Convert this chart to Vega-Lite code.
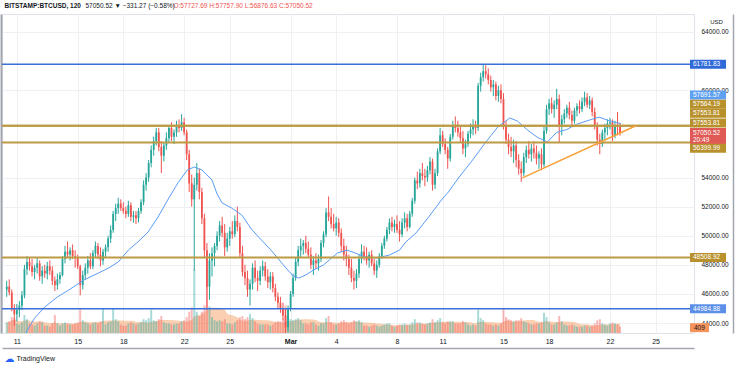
{
"$schema":"https://vega.github.io/schema/vega-lite/v6.json",
"width":692,"height":319,
"autosize":{"type":"none"},
"padding":{"left":2,"top":14,"right":42,"bottom":35},
"background":"white",
"config":{"view":{"stroke":"#dfe2e8","strokeWidth":1},"font":"Liberation Sans"},
"datasets":{
"candles":[
{"t":"2021-02-10T08:00","o":46300,"h":46900,"l":45800,"c":46500,"v":1000},
{"t":"2021-02-10T12:00","o":46500,"h":47000,"l":45900,"c":46100,"v":1100},
{"t":"2021-02-10T16:00","o":46100,"h":46300,"l":44800,"c":45000,"v":1500},
{"t":"2021-02-10T20:00","o":45000,"h":45300,"l":43800,"c":44600,"v":1400},
{"t":"2021-02-11T00:00","o":44600,"h":45300,"l":44100,"c":44900,"v":900},
{"t":"2021-02-11T04:00","o":44900,"h":45500,"l":44400,"c":45200,"v":800},
{"t":"2021-02-11T08:00","o":45200,"h":46200,"l":44900,"c":45900,"v":1000},
{"t":"2021-02-11T12:00","o":45900,"h":48000,"l":45700,"c":47700,"v":1700},
{"t":"2021-02-11T16:00","o":47700,"h":48600,"l":47300,"c":48200,"v":1300},
{"t":"2021-02-11T20:00","o":48200,"h":48500,"l":47600,"c":47900,"v":900},
{"t":"2021-02-12T00:00","o":47900,"h":48400,"l":47200,"c":47500,"v":800},
{"t":"2021-02-12T04:00","o":47500,"h":48000,"l":47000,"c":47800,"v":700},
{"t":"2021-02-12T08:00","o":47800,"h":48500,"l":47400,"c":48100,"v":900},
{"t":"2021-02-12T12:00","o":48100,"h":48300,"l":46900,"c":47200,"v":1100},
{"t":"2021-02-12T16:00","o":47200,"h":47900,"l":46700,"c":47600,"v":1000},
{"t":"2021-02-12T20:00","o":47600,"h":48000,"l":47100,"c":47400,"v":700},
{"t":"2021-02-13T00:00","o":47400,"h":48200,"l":47000,"c":47900,"v":700},
{"t":"2021-02-13T04:00","o":47900,"h":48300,"l":47300,"c":47600,"v":600},
{"t":"2021-02-13T08:00","o":47600,"h":47900,"l":46600,"c":46900,"v":900},
{"t":"2021-02-13T12:00","o":46900,"h":47200,"l":46200,"c":46600,"v":1700},
{"t":"2021-02-13T16:00","o":46600,"h":47400,"l":46300,"c":47000,"v":900},
{"t":"2021-02-13T20:00","o":47000,"h":47500,"l":46700,"c":47300,"v":700},
{"t":"2021-02-14T00:00","o":47300,"h":48600,"l":47200,"c":48400,"v":900},
{"t":"2021-02-14T04:00","o":48400,"h":49300,"l":48100,"c":48900,"v":1000},
{"t":"2021-02-14T08:00","o":48900,"h":49600,"l":48500,"c":48700,"v":900},
{"t":"2021-02-14T12:00","o":48700,"h":49200,"l":48300,"c":49000,"v":800},
{"t":"2021-02-14T16:00","o":49000,"h":49400,"l":48400,"c":48600,"v":800},
{"t":"2021-02-14T20:00","o":48600,"h":49000,"l":47800,"c":48500,"v":900},
{"t":"2021-02-15T00:00","o":48500,"h":48700,"l":47700,"c":47900,"v":1000},
{"t":"2021-02-15T04:00","o":47900,"h":48000,"l":45900,"c":46600,"v":2300},
{"t":"2021-02-15T08:00","o":46600,"h":47600,"l":46300,"c":47300,"v":1200},
{"t":"2021-02-15T12:00","o":47300,"h":48100,"l":47000,"c":47800,"v":1000},
{"t":"2021-02-15T16:00","o":47800,"h":48600,"l":47400,"c":48300,"v":900},
{"t":"2021-02-15T20:00","o":48300,"h":48800,"l":47700,"c":47900,"v":800},
{"t":"2021-02-16T00:00","o":47900,"h":49000,"l":47700,"c":48800,"v":900},
{"t":"2021-02-16T04:00","o":48800,"h":49600,"l":48500,"c":49300,"v":1000},
{"t":"2021-02-16T08:00","o":49300,"h":49500,"l":48400,"c":48700,"v":900},
{"t":"2021-02-16T12:00","o":48700,"h":49200,"l":47900,"c":48300,"v":1100},
{"t":"2021-02-16T16:00","o":48300,"h":49100,"l":48000,"c":48900,"v":2300},
{"t":"2021-02-16T20:00","o":48900,"h":49400,"l":48500,"c":49200,"v":800},
{"t":"2021-02-17T00:00","o":49200,"h":50000,"l":48900,"c":49800,"v":1000},
{"t":"2021-02-17T04:00","o":49800,"h":50700,"l":49500,"c":50400,"v":1100},
{"t":"2021-02-17T08:00","o":50400,"h":51700,"l":50200,"c":51500,"v":2300},
{"t":"2021-02-17T12:00","o":51500,"h":52200,"l":51000,"c":51900,"v":1300},
{"t":"2021-02-17T16:00","o":51900,"h":52600,"l":51500,"c":52200,"v":1100},
{"t":"2021-02-17T20:00","o":52200,"h":52500,"l":51700,"c":51900,"v":800},
{"t":"2021-02-18T00:00","o":51900,"h":52300,"l":51500,"c":51700,"v":700},
{"t":"2021-02-18T04:00","o":51700,"h":52000,"l":51200,"c":51500,"v":700},
{"t":"2021-02-18T08:00","o":51500,"h":52400,"l":51300,"c":52100,"v":900},
{"t":"2021-02-18T12:00","o":52100,"h":52300,"l":51000,"c":51300,"v":1000},
{"t":"2021-02-18T16:00","o":51300,"h":51700,"l":50900,"c":51400,"v":900},
{"t":"2021-02-18T20:00","o":51400,"h":51700,"l":50800,"c":51200,"v":800},
{"t":"2021-02-19T00:00","o":51200,"h":51900,"l":50900,"c":51700,"v":900},
{"t":"2021-02-19T04:00","o":51700,"h":52500,"l":51500,"c":52300,"v":1000},
{"t":"2021-02-19T08:00","o":52300,"h":53800,"l":52100,"c":53500,"v":1300},
{"t":"2021-02-19T12:00","o":53500,"h":54300,"l":53100,"c":54000,"v":1200},
{"t":"2021-02-19T16:00","o":54000,"h":55200,"l":53700,"c":55000,"v":1400},
{"t":"2021-02-19T20:00","o":55000,"h":56200,"l":54700,"c":55900,"v":2200},
{"t":"2021-02-20T00:00","o":55900,"h":56800,"l":55500,"c":56500,"v":1200},
{"t":"2021-02-20T04:00","o":56500,"h":57400,"l":56200,"c":57100,"v":1100},
{"t":"2021-02-20T08:00","o":57100,"h":57400,"l":55800,"c":56100,"v":1300},
{"t":"2021-02-20T12:00","o":56100,"h":56500,"l":54300,"c":55500,"v":1600},
{"t":"2021-02-20T16:00","o":55500,"h":56400,"l":55100,"c":56200,"v":1000},
{"t":"2021-02-20T20:00","o":56200,"h":57100,"l":55900,"c":56700,"v":900},
{"t":"2021-02-21T00:00","o":56700,"h":57600,"l":56400,"c":57400,"v":900},
{"t":"2021-02-21T04:00","o":57400,"h":57800,"l":56500,"c":56800,"v":800},
{"t":"2021-02-21T08:00","o":56800,"h":57300,"l":56300,"c":57100,"v":800},
{"t":"2021-02-21T12:00","o":57100,"h":57900,"l":56800,"c":57600,"v":900},
{"t":"2021-02-21T16:00","o":57600,"h":58000,"l":57100,"c":57400,"v":900},
{"t":"2021-02-21T20:00","o":57400,"h":58350,"l":57200,"c":57800,"v":1100},
{"t":"2021-02-22T00:00","o":57800,"h":58100,"l":56900,"c":57100,"v":1200},
{"t":"2021-02-22T04:00","o":57100,"h":57300,"l":55200,"c":55600,"v":1500},
{"t":"2021-02-22T08:00","o":55600,"h":55900,"l":53000,"c":53600,"v":2000},
{"t":"2021-02-22T12:00","o":53600,"h":54200,"l":52000,"c":52500,"v":2400},
{"t":"2021-02-22T16:00","o":52500,"h":54000,"l":47600,"c":53500,"v":6000},
{"t":"2021-02-22T20:00","o":53500,"h":55000,"l":53100,"c":54300,"v":2000},
{"t":"2021-02-23T00:00","o":54300,"h":54600,"l":52500,"c":53000,"v":1600},
{"t":"2021-02-23T04:00","o":53000,"h":53300,"l":50800,"c":51200,"v":2000},
{"t":"2021-02-23T08:00","o":51200,"h":51500,"l":48500,"c":49000,"v":2600},
{"t":"2021-02-23T12:00","o":49000,"h":49500,"l":44900,"c":46500,"v":4500},
{"t":"2021-02-23T16:00","o":46500,"h":48800,"l":45600,"c":48300,"v":2500},
{"t":"2021-02-23T20:00","o":48300,"h":49200,"l":47200,"c":48800,"v":1500},
{"t":"2021-02-24T00:00","o":48800,"h":49500,"l":47900,"c":49300,"v":1200},
{"t":"2021-02-24T04:00","o":49300,"h":50300,"l":49000,"c":50000,"v":1100},
{"t":"2021-02-24T08:00","o":50000,"h":51000,"l":49600,"c":50700,"v":1200},
{"t":"2021-02-24T12:00","o":50700,"h":51300,"l":49900,"c":50200,"v":1100},
{"t":"2021-02-24T16:00","o":50200,"h":50800,"l":48600,"c":49200,"v":1300},
{"t":"2021-02-24T20:00","o":49200,"h":50200,"l":48900,"c":49800,"v":900},
{"t":"2021-02-25T00:00","o":49800,"h":50600,"l":49300,"c":50300,"v":900},
{"t":"2021-02-25T04:00","o":50300,"h":51000,"l":49800,"c":50100,"v":800},
{"t":"2021-02-25T08:00","o":50100,"h":51400,"l":49900,"c":51000,"v":1000},
{"t":"2021-02-25T12:00","o":51000,"h":52000,"l":50300,"c":50600,"v":1200},
{"t":"2021-02-25T16:00","o":50600,"h":50900,"l":48500,"c":48800,"v":1500},
{"t":"2021-02-25T20:00","o":48800,"h":49300,"l":47200,"c":47500,"v":1600},
{"t":"2021-02-26T00:00","o":47500,"h":48000,"l":46600,"c":47100,"v":1300},
{"t":"2021-02-26T04:00","o":47100,"h":47600,"l":45800,"c":46300,"v":1500},
{"t":"2021-02-26T08:00","o":46300,"h":47000,"l":45200,"c":46700,"v":1800},
{"t":"2021-02-26T12:00","o":46700,"h":48100,"l":46300,"c":47800,"v":1400},
{"t":"2021-02-26T16:00","o":47800,"h":48300,"l":46800,"c":47100,"v":1100},
{"t":"2021-02-26T20:00","o":47100,"h":47600,"l":46200,"c":46900,"v":900},
{"t":"2021-02-27T00:00","o":46900,"h":47900,"l":46600,"c":47600,"v":800},
{"t":"2021-02-27T04:00","o":47600,"h":48300,"l":47200,"c":47900,"v":800},
{"t":"2021-02-27T08:00","o":47900,"h":48200,"l":46900,"c":47200,"v":800},
{"t":"2021-02-27T12:00","o":47200,"h":47700,"l":46400,"c":46800,"v":800},
{"t":"2021-02-27T16:00","o":46800,"h":47500,"l":46300,"c":47200,"v":700},
{"t":"2021-02-27T20:00","o":47200,"h":47500,"l":46100,"c":46400,"v":800},
{"t":"2021-02-28T00:00","o":46400,"h":46700,"l":45500,"c":45800,"v":1000},
{"t":"2021-02-28T04:00","o":45800,"h":46100,"l":45000,"c":45400,"v":1100},
{"t":"2021-02-28T08:00","o":45400,"h":45800,"l":44700,"c":45000,"v":1100},
{"t":"2021-02-28T12:00","o":45000,"h":45400,"l":44200,"c":44500,"v":1300},
{"t":"2021-02-28T16:00","o":44500,"h":45000,"l":43000,"c":43700,"v":2600},
{"t":"2021-02-28T20:00","o":43700,"h":45200,"l":43400,"c":45000,"v":1600},
{"t":"2021-03-01T00:00","o":45000,"h":46200,"l":44800,"c":46000,"v":1300},
{"t":"2021-03-01T04:00","o":46000,"h":47400,"l":45800,"c":47100,"v":1200},
{"t":"2021-03-01T08:00","o":47100,"h":48500,"l":46900,"c":48200,"v":1300},
{"t":"2021-03-01T12:00","o":48200,"h":49300,"l":47900,"c":49000,"v":1400},
{"t":"2021-03-01T16:00","o":49000,"h":49800,"l":48500,"c":49300,"v":1200},
{"t":"2021-03-01T20:00","o":49300,"h":49700,"l":48700,"c":49500,"v":900},
{"t":"2021-03-02T00:00","o":49500,"h":50000,"l":48800,"c":49100,"v":900},
{"t":"2021-03-02T04:00","o":49100,"h":49600,"l":48500,"c":48700,"v":800},
{"t":"2021-03-02T08:00","o":48700,"h":49200,"l":47700,"c":48000,"v":1000},
{"t":"2021-03-02T12:00","o":48000,"h":48600,"l":47300,"c":48300,"v":1000},
{"t":"2021-03-02T16:00","o":48300,"h":48800,"l":47700,"c":48100,"v":800},
{"t":"2021-03-02T20:00","o":48100,"h":48700,"l":47600,"c":48400,"v":700},
{"t":"2021-03-03T00:00","o":48400,"h":49700,"l":48200,"c":49500,"v":900},
{"t":"2021-03-03T04:00","o":49500,"h":50300,"l":49200,"c":50100,"v":900},
{"t":"2021-03-03T08:00","o":50100,"h":51900,"l":49900,"c":51600,"v":1400},
{"t":"2021-03-03T12:00","o":51600,"h":52700,"l":51000,"c":51300,"v":1600},
{"t":"2021-03-03T16:00","o":51300,"h":51900,"l":50500,"c":50800,"v":1000},
{"t":"2021-03-03T20:00","o":50800,"h":51500,"l":50300,"c":50500,"v":800},
{"t":"2021-03-04T00:00","o":50500,"h":51300,"l":50000,"c":50900,"v":800},
{"t":"2021-03-04T04:00","o":50900,"h":51200,"l":49900,"c":50200,"v":900},
{"t":"2021-03-04T08:00","o":50200,"h":50500,"l":48900,"c":49300,"v":1100},
{"t":"2021-03-04T12:00","o":49300,"h":49800,"l":48300,"c":48700,"v":1200},
{"t":"2021-03-04T16:00","o":48700,"h":49300,"l":47900,"c":48400,"v":1000},
{"t":"2021-03-04T20:00","o":48400,"h":48700,"l":47300,"c":47800,"v":900},
{"t":"2021-03-05T00:00","o":47800,"h":48400,"l":46800,"c":47100,"v":1000},
{"t":"2021-03-05T04:00","o":47100,"h":47600,"l":46300,"c":46900,"v":1200},
{"t":"2021-03-05T08:00","o":46900,"h":47700,"l":46400,"c":47400,"v":1100},
{"t":"2021-03-05T12:00","o":47400,"h":48700,"l":47100,"c":48400,"v":1200},
{"t":"2021-03-05T16:00","o":48400,"h":49400,"l":48100,"c":48900,"v":1000},
{"t":"2021-03-05T20:00","o":48900,"h":49300,"l":48300,"c":48600,"v":700},
{"t":"2021-03-06T00:00","o":48600,"h":49200,"l":48000,"c":48300,"v":700},
{"t":"2021-03-06T04:00","o":48300,"h":48900,"l":47800,"c":48700,"v":600},
{"t":"2021-03-06T08:00","o":48700,"h":49000,"l":47900,"c":48100,"v":700},
{"t":"2021-03-06T12:00","o":48100,"h":48400,"l":47300,"c":47600,"v":800},
{"t":"2021-03-06T16:00","o":47600,"h":48300,"l":47100,"c":48000,"v":700},
{"t":"2021-03-06T20:00","o":48000,"h":48800,"l":47800,"c":48600,"v":600},
{"t":"2021-03-07T00:00","o":48600,"h":49500,"l":48400,"c":49300,"v":700},
{"t":"2021-03-07T04:00","o":49300,"h":50000,"l":49100,"c":49800,"v":800},
{"t":"2021-03-07T08:00","o":49800,"h":50600,"l":49600,"c":50400,"v":900},
{"t":"2021-03-07T12:00","o":50400,"h":51200,"l":50100,"c":50900,"v":900},
{"t":"2021-03-07T16:00","o":50900,"h":51300,"l":50300,"c":50600,"v":700},
{"t":"2021-03-07T20:00","o":50600,"h":51100,"l":50200,"c":50800,"v":600},
{"t":"2021-03-08T00:00","o":50800,"h":51400,"l":50200,"c":50400,"v":700},
{"t":"2021-03-08T04:00","o":50400,"h":51000,"l":49600,"c":50100,"v":800},
{"t":"2021-03-08T08:00","o":50100,"h":51200,"l":49900,"c":50900,"v":800},
{"t":"2021-03-08T12:00","o":50900,"h":51600,"l":50500,"c":51200,"v":900},
{"t":"2021-03-08T16:00","o":51200,"h":51500,"l":50300,"c":50600,"v":800},
{"t":"2021-03-08T20:00","o":50600,"h":51700,"l":50500,"c":51500,"v":800},
{"t":"2021-03-09T00:00","o":51500,"h":52600,"l":51300,"c":52400,"v":1000},
{"t":"2021-03-09T04:00","o":52400,"h":54000,"l":52200,"c":53800,"v":1300},
{"t":"2021-03-09T08:00","o":53800,"h":54400,"l":53200,"c":53600,"v":1000},
{"t":"2021-03-09T12:00","o":53600,"h":54600,"l":53300,"c":54300,"v":1000},
{"t":"2021-03-09T16:00","o":54300,"h":55000,"l":53800,"c":54100,"v":900},
{"t":"2021-03-09T20:00","o":54100,"h":54600,"l":53400,"c":54000,"v":800},
{"t":"2021-03-10T00:00","o":54000,"h":54800,"l":53700,"c":54500,"v":900},
{"t":"2021-03-10T04:00","o":54500,"h":55400,"l":54200,"c":55100,"v":1000},
{"t":"2021-03-10T08:00","o":55100,"h":55300,"l":53100,"c":53500,"v":1300},
{"t":"2021-03-10T12:00","o":53500,"h":54600,"l":53200,"c":54300,"v":1000},
{"t":"2021-03-10T16:00","o":54300,"h":56000,"l":54100,"c":55800,"v":1200},
{"t":"2021-03-10T20:00","o":55800,"h":57400,"l":55600,"c":56900,"v":1400},
{"t":"2021-03-11T00:00","o":56900,"h":57200,"l":56100,"c":56300,"v":1000},
{"t":"2021-03-11T04:00","o":56300,"h":56700,"l":55600,"c":55900,"v":900},
{"t":"2021-03-11T08:00","o":55900,"h":56100,"l":54600,"c":55300,"v":1100},
{"t":"2021-03-11T12:00","o":55300,"h":57000,"l":55100,"c":56800,"v":1100},
{"t":"2021-03-11T16:00","o":56800,"h":57900,"l":56600,"c":57600,"v":1100},
{"t":"2021-03-11T20:00","o":57600,"h":58200,"l":57100,"c":57400,"v":900},
{"t":"2021-03-12T00:00","o":57400,"h":57900,"l":56800,"c":57100,"v":900},
{"t":"2021-03-12T04:00","o":57100,"h":57600,"l":56400,"c":56700,"v":900},
{"t":"2021-03-12T08:00","o":56700,"h":57200,"l":55600,"c":56000,"v":1100},
{"t":"2021-03-12T12:00","o":56000,"h":56600,"l":55400,"c":56300,"v":1000},
{"t":"2021-03-12T16:00","o":56300,"h":57200,"l":56100,"c":57000,"v":800},
{"t":"2021-03-12T20:00","o":57000,"h":57700,"l":56700,"c":57300,"v":700},
{"t":"2021-03-13T00:00","o":57300,"h":58000,"l":56900,"c":57600,"v":800},
{"t":"2021-03-13T04:00","o":57600,"h":57900,"l":57000,"c":57400,"v":700},
{"t":"2021-03-13T08:00","o":57400,"h":60500,"l":57200,"c":60300,"v":2200},
{"t":"2021-03-13T12:00","o":60300,"h":61200,"l":59900,"c":60900,"v":1400},
{"t":"2021-03-13T16:00","o":60900,"h":61800,"l":60600,"c":61300,"v":1200},
{"t":"2021-03-13T20:00","o":61300,"h":61700,"l":60800,"c":61100,"v":900},
{"t":"2021-03-14T00:00","o":61100,"h":61500,"l":60400,"c":60700,"v":800},
{"t":"2021-03-14T04:00","o":60700,"h":61000,"l":59900,"c":60200,"v":800},
{"t":"2021-03-14T08:00","o":60200,"h":60700,"l":59600,"c":60400,"v":700},
{"t":"2021-03-14T12:00","o":60400,"h":60600,"l":59300,"c":59600,"v":800},
{"t":"2021-03-14T16:00","o":59600,"h":60300,"l":59200,"c":60000,"v":700},
{"t":"2021-03-14T20:00","o":60000,"h":60400,"l":59100,"c":59400,"v":900},
{"t":"2021-03-15T00:00","o":59400,"h":59800,"l":57300,"c":57600,"v":2300},
{"t":"2021-03-15T04:00","o":57600,"h":57900,"l":56300,"c":56600,"v":1500},
{"t":"2021-03-15T08:00","o":56600,"h":57000,"l":55600,"c":56100,"v":1300},
{"t":"2021-03-15T12:00","o":56100,"h":56800,"l":55400,"c":55800,"v":1200},
{"t":"2021-03-15T16:00","o":55800,"h":56600,"l":55000,"c":56200,"v":1100},
{"t":"2021-03-15T20:00","o":56200,"h":56500,"l":54700,"c":55200,"v":1200},
{"t":"2021-03-16T00:00","o":55200,"h":55600,"l":54200,"c":54600,"v":1200},
{"t":"2021-03-16T04:00","o":54600,"h":55100,"l":53700,"c":54300,"v":1400},
{"t":"2021-03-16T08:00","o":54300,"h":55700,"l":54100,"c":55400,"v":1100},
{"t":"2021-03-16T12:00","o":55400,"h":56200,"l":55000,"c":55900,"v":1000},
{"t":"2021-03-16T16:00","o":55900,"h":56500,"l":55300,"c":55600,"v":900},
{"t":"2021-03-16T20:00","o":55600,"h":56300,"l":55100,"c":56000,"v":800},
{"t":"2021-03-17T00:00","o":56000,"h":56500,"l":55300,"c":55700,"v":800},
{"t":"2021-03-17T04:00","o":55700,"h":56200,"l":54900,"c":55300,"v":900},
{"t":"2021-03-17T08:00","o":55300,"h":55800,"l":54600,"c":55600,"v":900},
{"t":"2021-03-17T12:00","o":55600,"h":56000,"l":54500,"c":54900,"v":1000},
{"t":"2021-03-17T16:00","o":54900,"h":57500,"l":54700,"c":57200,"v":1900},
{"t":"2021-03-17T20:00","o":57200,"h":59000,"l":57000,"c":58700,"v":1500},
{"t":"2021-03-18T00:00","o":58700,"h":59400,"l":58300,"c":59100,"v":1000},
{"t":"2021-03-18T04:00","o":59100,"h":59500,"l":58400,"c":58700,"v":800},
{"t":"2021-03-18T08:00","o":58700,"h":59300,"l":58100,"c":59000,"v":800},
{"t":"2021-03-18T12:00","o":59000,"h":60100,"l":58700,"c":59400,"v":1000},
{"t":"2021-03-18T16:00","o":59400,"h":59700,"l":56400,"c":57600,"v":1600},
{"t":"2021-03-18T20:00","o":57600,"h":58300,"l":56900,"c":58000,"v":1100},
{"t":"2021-03-19T00:00","o":58000,"h":58700,"l":57700,"c":58400,"v":800},
{"t":"2021-03-19T04:00","o":58400,"h":59000,"l":58100,"c":58800,"v":700},
{"t":"2021-03-19T08:00","o":58800,"h":59200,"l":58000,"c":58300,"v":700},
{"t":"2021-03-19T12:00","o":58300,"h":58600,"l":57600,"c":57900,"v":800},
{"t":"2021-03-19T16:00","o":57900,"h":58800,"l":57700,"c":58600,"v":700},
{"t":"2021-03-19T20:00","o":58600,"h":59100,"l":58200,"c":58900,"v":600},
{"t":"2021-03-20T00:00","o":58900,"h":59300,"l":58400,"c":58700,"v":600},
{"t":"2021-03-20T04:00","o":58700,"h":59500,"l":58500,"c":59200,"v":600},
{"t":"2021-03-20T08:00","o":59200,"h":59900,"l":58900,"c":59500,"v":700},
{"t":"2021-03-20T12:00","o":59500,"h":59800,"l":58800,"c":59000,"v":700},
{"t":"2021-03-20T16:00","o":59000,"h":59600,"l":58700,"c":59300,"v":600},
{"t":"2021-03-20T20:00","o":59300,"h":59500,"l":58200,"c":58500,"v":700},
{"t":"2021-03-21T00:00","o":58500,"h":58800,"l":57300,"c":57500,"v":900},
{"t":"2021-03-21T04:00","o":57500,"h":57800,"l":56200,"c":56600,"v":1200},
{"t":"2021-03-21T08:00","o":56600,"h":57000,"l":55600,"c":56300,"v":1300},
{"t":"2021-03-21T12:00","o":56300,"h":57300,"l":56100,"c":57100,"v":900},
{"t":"2021-03-21T16:00","o":57100,"h":57700,"l":56600,"c":57400,"v":800},
{"t":"2021-03-21T20:00","o":57400,"h":58000,"l":56900,"c":57700,"v":700},
{"t":"2021-03-22T00:00","o":57700,"h":58100,"l":57300,"c":57800,"v":900},
{"t":"2021-03-22T04:00","o":57800,"h":58000,"l":56500,"c":56900,"v":1000},
{"t":"2021-03-22T08:00","o":56900,"h":57900,"l":56700,"c":57600,"v":900},
{"t":"2021-03-22T12:00","o":57600,"h":58500,"l":56900,"c":57500,"v":800},
{"t":"2021-03-22T16:00","o":57500,"h":57760,"l":56877,"c":57050,"v":600}
],
"ema":[
{"t":"2021-02-11T03:00","p":42900},{"t":"2021-02-11T12:00","p":43175},{"t":"2021-02-12T04:00","p":44340},{"t":"2021-02-12T20:00","p":45100},
{"t":"2021-02-13T16:00","p":45790},{"t":"2021-02-14T10:00","p":46270},{"t":"2021-02-15T10:00","p":46960},{"t":"2021-02-16T09:00","p":47440},
{"t":"2021-02-17T01:00","p":47780},{"t":"2021-02-17T16:00","p":48190},{"t":"2021-02-18T08:00","p":49010},{"t":"2021-02-18T23:00","p":49570},
{"t":"2021-02-19T15:00","p":50250},{"t":"2021-02-20T06:00","p":51220},{"t":"2021-02-20T22:00","p":52450},{"t":"2021-02-21T14:00","p":53620},
{"t":"2021-02-22T05:00","p":54520},{"t":"2021-02-22T16:00","p":54720},{"t":"2021-02-23T04:00","p":54520},{"t":"2021-02-23T20:00","p":53830},
{"t":"2021-02-24T04:00","p":52870},{"t":"2021-02-24T12:00","p":52250},{"t":"2021-02-25T03:00","p":51900},{"t":"2021-02-25T19:00","p":51420},
{"t":"2021-02-26T10:00","p":50460},{"t":"2021-02-27T02:00","p":49700},{"t":"2021-02-27T17:00","p":49010},{"t":"2021-02-28T14:00","p":47920},
{"t":"2021-03-01T04:00","p":47230},{"t":"2021-03-01T13:00","p":47090},{"t":"2021-03-02T00:00","p":47300},{"t":"2021-03-02T12:00","p":47640},
{"t":"2021-03-03T04:00","p":47990},{"t":"2021-03-04T02:00","p":48810},{"t":"2021-03-04T17:00","p":49010},{"t":"2021-03-05T06:00","p":48810},
{"t":"2021-03-05T21:00","p":48540},{"t":"2021-03-06T16:00","p":48470},{"t":"2021-03-07T12:00","p":48670},{"t":"2021-03-08T04:00","p":49010},
{"t":"2021-03-08T14:00","p":49570},{"t":"2021-03-09T06:00","p":50190},{"t":"2021-03-10T02:00","p":51290},{"t":"2021-03-10T22:00","p":52450},
{"t":"2021-03-11T09:00","p":53000},{"t":"2021-03-12T01:00","p":53970},{"t":"2021-03-12T21:00","p":55070},{"t":"2021-03-13T19:00","p":56370},
{"t":"2021-03-14T15:00","p":57470},{"t":"2021-03-15T10:00","p":58090},{"t":"2021-03-15T22:00","p":57880},{"t":"2021-03-16T14:00","p":57260},
{"t":"2021-03-17T05:00","p":56780},{"t":"2021-03-17T21:00","p":56440},{"t":"2021-03-18T12:00","p":57100},{"t":"2021-03-19T04:00","p":57300},
{"t":"2021-03-19T19:00","p":57650},{"t":"2021-03-20T16:00","p":57950},{"t":"2021-03-21T07:00","p":58150},{"t":"2021-03-21T23:00","p":57900},
{"t":"2021-03-22T17:00","p":57700}
],
"levels":[
{"p":61781.83,"k":"blue"},{"p":57564.19,"k":"gold"},{"p":57553.81,"k":"gold"},{"p":56399.99,"k":"gold"},{"p":48508.92,"k":"gold"},{"p":44984.88,"k":"blue"}
],
"trend":[{"t":"2021-03-16T06:00","p":53970},{"t":"2021-03-23T17:00","p":57560}],
"tags":[
{"txt":"61781.83","p":61781.83,"k":"ath"},
{"txt":"57691.57","p":59670,"k":"ema"},
{"txt":"57564.19","p":59031,"k":"lvl"},
{"txt":"57553.81","p":58412,"k":"lvl"},
{"txt":"57553.81","p":57746,"k":"lvl"},
{"txt":"57050.52","p":57090,"k":"last"},
{"txt":"20:49","p":56610,"k":"last"},
{"txt":"56399.99","p":56007,"k":"lvl"},
{"txt":"48508.92","p":48508.92,"k":"lvl"},
{"txt":"44984.88","p":44984.88,"k":"sup"}
],
"voltag":[{"txt":"409","p":43680}]
},
"resolve":{"scale":{"y":"independent","color":"independent"},"axis":{"x":"independent"}},
"layer":[
{"data":{"name":"candles"},
 "transform":[{"window":[{"op":"mean","field":"v","as":"vm"}],"frame":[-12,0],"sort":[{"field":"t"}]}],
 "mark":{"type":"area","color":"#f6a066","opacity":0.5,"clip":true},
 "encoding":{
  "x":{"field":"t","type":"temporal","scale":{"domain":[{"year":2021,"month":2,"date":10,"hours":8,"minutes":27},{"year":2021,"month":3,"date":27,"hours":4,"minutes":48}]},"axis":null},
  "y":{"field":"vm","type":"quantitative","scale":{"domain":[0,30000]},
   "axis":{"orient":"left","offset":1,"domain":true,"domainColor":"#a3a6af","domainWidth":2,"labels":false,"ticks":false,"grid":false,"title":"O:57727.69 H:57757.90 L:56876.63 C:57050.52","titleAngle":0,"titleAlign":"left","titleBaseline":"middle","titleX":172,"titleY":-9,"titleFontSize":6.5,"titleFontWeight":"normal","titleColor":"#ef5350"}}
 }},
{"data":{"name":"candles"},
 "mark":{"type":"bar","width":2,"opacity":0.4,"clip":true},
 "encoding":{
  "x":{"field":"t","type":"temporal","scale":{"domain":[{"year":2021,"month":2,"date":10,"hours":8,"minutes":27},{"year":2021,"month":3,"date":27,"hours":4,"minutes":48}]},"axis":null},
  "y":{"field":"v","type":"quantitative","scale":{"domain":[0,30000]},"axis":null},
  "color":{"condition":{"test":"datum.c >= datum.o","value":"#26a69a"},"value":"#ef5350"}
 }},
{"data":{"name":"candles"},
 "mark":{"type":"rule","strokeWidth":1,"clip":true},
 "encoding":{
  "x":{"field":"t","type":"temporal","scale":{"domain":[{"year":2021,"month":2,"date":10,"hours":8,"minutes":27},{"year":2021,"month":3,"date":27,"hours":4,"minutes":48}]},"axis":null},
  "y":{"field":"l","type":"quantitative","scale":{"domain":[43313,65237]},
   "axis":{"orient":"left","domain":false,"labels":false,"ticks":false,"grid":false,"title":"57050.52 ▼ −331.27 (−0.58%)","titleAngle":0,"titleAlign":"left","titleBaseline":"middle","titleX":83,"titleY":-9,"titleFontSize":6.5,"titleFontWeight":"normal","titleColor":"#131722"}},
  "y2":{"field":"h"},
  "color":{"condition":{"test":"datum.c >= datum.o","value":"#26a69a"},"value":"#ef5350"}
 }},
{"data":{"name":"candles"},
 "mark":{"type":"bar","width":1.8,"clip":true},
 "encoding":{
  "x":{"field":"t","type":"temporal","scale":{"domain":[{"year":2021,"month":2,"date":10,"hours":8,"minutes":27},{"year":2021,"month":3,"date":27,"hours":4,"minutes":48}]},
   "axis":{"values":[{"year":2021,"month":2,"date":11},{"year":2021,"month":2,"date":15},{"year":2021,"month":2,"date":18},{"year":2021,"month":2,"date":22},{"year":2021,"month":2,"date":25},{"year":2021,"month":3,"date":1},{"year":2021,"month":3,"date":4},{"year":2021,"month":3,"date":8},{"year":2021,"month":3,"date":11},{"year":2021,"month":3,"date":15},{"year":2021,"month":3,"date":18},{"year":2021,"month":3,"date":22},{"year":2021,"month":3,"date":25}],
    "labelExpr":"date(datum.value) == 1 ? 'Mar' : '' + date(datum.value)",
    "labelFontWeight":{"condition":{"test":"date(datum.value) == 1","value":"bold"},"value":"normal"},
    "grid":true,"gridColor":"#eef0f4","ticks":false,"domain":false,"labelPadding":4,"labelFontSize":7,"labelColor":"#131722","labelOverlap":false,"labelFlush":false,
    "title":"TradingView","titleX":14,"titleY":25,"titleAlign":"left","titleAnchor":"start","titleBaseline":"middle","titleFontSize":7,"titleFontWeight":"normal","titleColor":"#131722"}},
  "y":{"field":"o","type":"quantitative","scale":{"domain":[43313,65237]},
   "axis":{"orient":"right","values":[44000,46000,48000,50000,52000,54000,60000,64000],"labelExpr":"format(datum.value, '.2f')","grid":true,"gridColor":"#eef0f4","ticks":false,"domain":false,"labelPadding":7,"labelFontSize":6.5,"labelColor":"#131722","labelOverlap":false,"labelFlush":false,
    "title":"USD","titleAngle":0,"titleX":22,"titleY":7,"titleAlign":"center","titleBaseline":"middle","titleFontSize":6,"titleFontWeight":"normal","titleColor":"#131722"}},
  "y2":{"field":"c"},
  "color":{"condition":{"test":"datum.c >= datum.o","value":"#26a69a"},"value":"#ef5350"}
 }},
{"data":{"name":"ema"},
 "mark":{"type":"line","color":"#5b9cf6","strokeWidth":1,"clip":true},
 "encoding":{
  "x":{"field":"t","type":"temporal","scale":{"domain":[{"year":2021,"month":2,"date":10,"hours":8,"minutes":27},{"year":2021,"month":3,"date":27,"hours":4,"minutes":48}]},"axis":null},
  "y":{"field":"p","type":"quantitative","scale":{"domain":[43313,65237]},
   "axis":{"orient":"left","domain":false,"labels":false,"ticks":false,"grid":false,"title":"BITSTAMP:BTCUSD, 120","titleAngle":0,"titleAlign":"left","titleBaseline":"middle","titleX":2,"titleY":-9,"titleFontSize":6.5,"titleFontWeight":"bold","titleColor":"#131722"}}
 }},
{"data":{"name":"levels"},
 "mark":{"type":"rule"},
 "encoding":{
  "y":{"field":"p","type":"quantitative","scale":{"domain":[43313,65237]},"axis":null},
  "color":{"field":"k","type":"nominal","scale":{"domain":["blue","gold"],"range":["#3a6fd8","#bd9a44"]},"legend":null},
  "strokeWidth":{"condition":{"test":"datum.k == 'gold'","value":2},"value":1.5}
 }},
{"data":{"name":"trend"},
 "mark":{"type":"line","color":"#f7a035","strokeWidth":1.5},
 "encoding":{
  "x":{"field":"t","type":"temporal","scale":{"domain":[{"year":2021,"month":2,"date":10,"hours":8,"minutes":27},{"year":2021,"month":3,"date":27,"hours":4,"minutes":48}]},
   "axis":{"orient":"bottom","offset":15,"domain":true,"domainColor":"#a3a6af","domainWidth":1.5,"labels":false,"ticks":false,"grid":false,"title":"☁","titleX":7,"titleY":10,"titleAlign":"center","titleBaseline":"middle","titleFontSize":10,"titleColor":"#2962ff","titleFont":"DejaVu Sans"}},
  "y":{"field":"p","type":"quantitative","scale":{"domain":[43313,65237]},
   "axis":{"orient":"right","offset":39,"domain":true,"domainColor":"#a3a6af","domainWidth":1.5,"labels":false,"ticks":false,"grid":false,"title":null}}
 }},
{"mark":{"type":"rule","color":"#ef5350","strokeWidth":1,"strokeDash":[1,2]},
 "encoding":{
  "y":{"datum":57050.52,"type":"quantitative","scale":{"domain":[43313,65237]},"axis":null}
 }},
{"data":{"name":"tags"},
 "mark":{"type":"rect","xOffset":1,"x2Offset":37,"yOffset":-4.5,"y2Offset":4.5,"clip":false},
 "encoding":{
  "x":{"datum":{"year":2021,"month":3,"date":27,"hours":4,"minutes":48},"type":"temporal","scale":{"domain":[{"year":2021,"month":2,"date":10,"hours":8,"minutes":27},{"year":2021,"month":3,"date":27,"hours":4,"minutes":48}]},"axis":null},
  "x2":{"datum":{"year":2021,"month":3,"date":27,"hours":4,"minutes":48}},
  "y":{"field":"p","type":"quantitative","scale":{"domain":[43313,65237]},"axis":null},
  "y2":{"field":"p"},
  "color":{"field":"k","type":"nominal","scale":{"domain":["ath","ema","lvl","last","sup"],"range":["#2f6ad9","#5ea1f2","#b8912c","#e05a55","#5b8fe8"]},"legend":null}
 }},
{"data":{"name":"tags"},
 "mark":{"type":"text","align":"left","baseline":"middle","dx":4,"fontSize":6.5,"color":"white","clip":false},
 "encoding":{
  "x":{"datum":{"year":2021,"month":3,"date":27,"hours":4,"minutes":48},"type":"temporal","scale":{"domain":[{"year":2021,"month":2,"date":10,"hours":8,"minutes":27},{"year":2021,"month":3,"date":27,"hours":4,"minutes":48}]},"axis":null},
  "y":{"field":"p","type":"quantitative","scale":{"domain":[43313,65237]},"axis":null},
  "text":{"field":"txt"}
 }},
{"data":{"name":"voltag"},
 "mark":{"type":"rect","xOffset":1,"x2Offset":20,"yOffset":-4.5,"y2Offset":4.5,"clip":false,"color":"#f5935a"},
 "encoding":{
  "x":{"datum":{"year":2021,"month":3,"date":27,"hours":4,"minutes":48},"type":"temporal","scale":{"domain":[{"year":2021,"month":2,"date":10,"hours":8,"minutes":27},{"year":2021,"month":3,"date":27,"hours":4,"minutes":48}]},"axis":null},
  "x2":{"datum":{"year":2021,"month":3,"date":27,"hours":4,"minutes":48}},
  "y":{"field":"p","type":"quantitative","scale":{"domain":[43313,65237]},"axis":null},
  "y2":{"field":"p"}
 }},
{"data":{"name":"voltag"},
 "mark":{"type":"text","align":"left","baseline":"middle","dx":5,"fontSize":6.5,"color":"#131722","clip":false},
 "encoding":{
  "x":{"datum":{"year":2021,"month":3,"date":27,"hours":4,"minutes":48},"type":"temporal","scale":{"domain":[{"year":2021,"month":2,"date":10,"hours":8,"minutes":27},{"year":2021,"month":3,"date":27,"hours":4,"minutes":48}]},"axis":null},
  "y":{"field":"p","type":"quantitative","scale":{"domain":[43313,65237]},"axis":null},
  "text":{"field":"txt"}
 }}
]
}
